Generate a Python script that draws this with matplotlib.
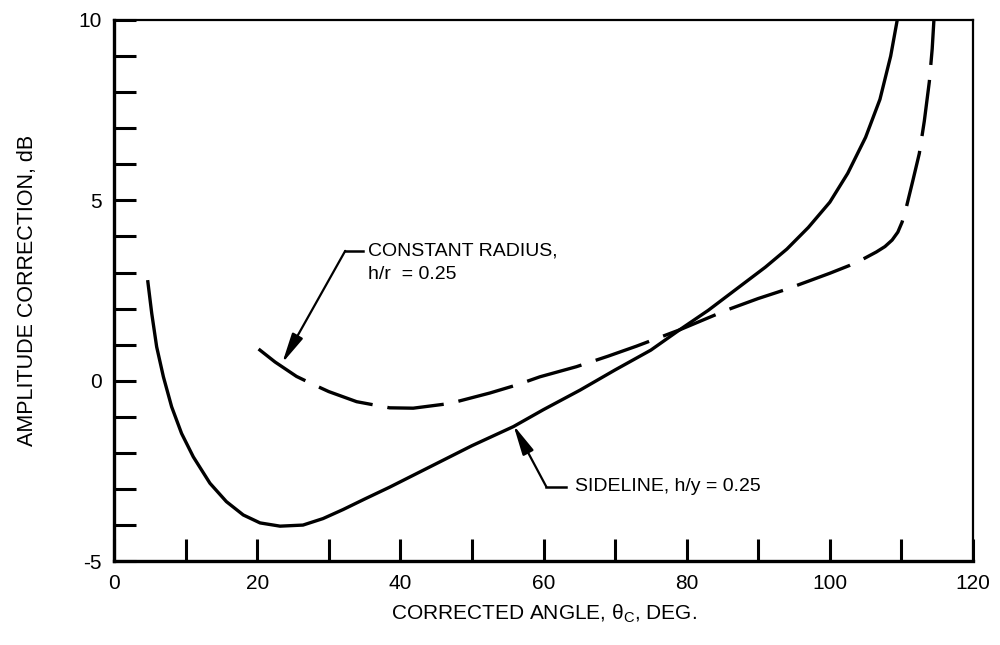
import numpy as np
import matplotlib
matplotlib.use("Agg")
import matplotlib.pyplot as plt
from matplotlib.ticker import MultipleLocator

plt.rcParams['font.family'] = ['Liberation Sans', 'DejaVu Sans']
plt.rcParams['mathtext.fontset'] = 'custom'
plt.rcParams['mathtext.rm'] = 'Liberation Sans'
plt.rcParams['mathtext.it'] = 'Liberation Sans'
plt.rcParams['axes.unicode_minus'] = False

# sideline, h/y = 0.25
side_x = [4.7, 5.27, 5.96, 6.9, 8.05, 9.44, 11.08, 13.4, 15.7, 18.06, 20.4, 23.2,
          26.4, 29.2, 32.0, 35.0, 38.5, 45.0, 50.0, 55.8, 60.0, 65.1, 70.0, 75.0,
          79.0, 83.0, 87.4, 91.0, 94.0, 97.0, 100.0, 102.5, 105.0, 107.0, 108.5, 109.6]
side_y = [2.79, 1.87, 0.94, 0.11, -0.72, -1.46, -2.11, -2.84, -3.35, -3.72, -3.94, -4.03,
          -4.0, -3.82, -3.57, -3.28, -2.95, -2.3, -1.8, -1.27, -0.8, -0.26, 0.3, 0.85,
          1.41, 1.95, 2.61, 3.15, 3.65, 4.25, 4.95, 5.75, 6.75, 7.8, 9.0, 10.2]

# constant radius, h/r = 0.25
crad_x = [20.2, 22.5, 25.5, 27.8, 30.0, 33.9, 38.5, 41.8, 46.9, 52.5, 56.2, 59.5,
          64.6, 69.0, 73.0, 79.0, 85.6, 90.0, 93.7, 97.0, 100.0, 102.8, 104.9, 106.5,
          107.7, 108.7, 109.5, 110.1, 110.7, 111.6, 112.5, 113.2, 113.9, 114.3, 114.6]
crad_y = [0.88, 0.52, 0.12, -0.1, -0.3, -0.58, -0.75, -0.76, -0.63, -0.34, -0.12, 0.11,
          0.39, 0.68, 0.96, 1.41, 1.96, 2.28, 2.52, 2.76, 2.98, 3.2, 3.4, 3.57,
          3.72, 3.9, 4.12, 4.4, 4.82, 5.55, 6.3, 7.2, 8.29, 9.2, 10.2]

x_major = [0, 20, 40, 60, 80, 100, 120]
y_major = [-5, 0, 5, 10]

fig = plt.figure(figsize=(10, 6.45), dpi=100)
ax = fig.add_axes([0.114, 0.130, 0.859, 0.839])

ax.plot(side_x, side_y, color='black', lw=2.4, solid_capstyle='butt',
        solid_joinstyle='round')
ax.plot(crad_x, crad_y, color='black', lw=2.4, dashes=(17, 4.5),
        dash_capstyle='butt', dash_joinstyle='round')

ax.set_xlim(0, 120)
ax.set_ylim(-5, 10)
ax.set_xticks(x_major)
ax.set_yticks(y_major)
ax.xaxis.set_minor_locator(MultipleLocator(10))
ax.yaxis.set_minor_locator(MultipleLocator(1))
ax.tick_params(which='both', direction='in', length=16, width=2.2, top=False, right=False,
               labelsize=15)
ax.tick_params(axis='x', pad=9)
ax.tick_params(axis='y', pad=9)

for side in ['left', 'bottom']:
    ax.spines[side].set_linewidth(2.4)
for side in ['top', 'right']:
    ax.spines[side].set_linewidth(1.6)

ax.set_xlabel(r'CORRECTED ANGLE, $\mathrm{\theta_C}$, DEG.', fontsize=15, labelpad=7)
ax.set_ylabel('AMPLITUDE CORRECTION, dB', fontsize=15.5, labelpad=29)

arrow = dict(arrowstyle='-|>,head_length=1.4,head_width=0.28', color='black',
             lw=1.6, mutation_scale=13, shrinkA=0, shrinkB=0)

# leader for the constant radius curve
ax.plot([32.3, 34.8], [3.6, 3.6], color='black', lw=1.8)
ax.annotate('', xy=(23.5, 0.49), xytext=(32.3, 3.6), arrowprops=arrow)
ax.text(35.5, 3.6, 'CONSTANT RADIUS,', fontsize=14, ha='left', va='center')
ax.text(35.5, 2.95, 'h/r  = 0.25', fontsize=14, ha='left', va='center')

# leader for the sideline curve
ax.plot([60.4, 63.2], [-2.94, -2.94], color='black', lw=1.8)
ax.annotate('', xy=(55.8, -1.23), xytext=(60.4, -2.94), arrowprops=arrow)
ax.text(64.4, -2.94, 'SIDELINE, h/y = 0.25', fontsize=14, ha='left', va='center')

fig.savefig('out.png', dpi=100)
